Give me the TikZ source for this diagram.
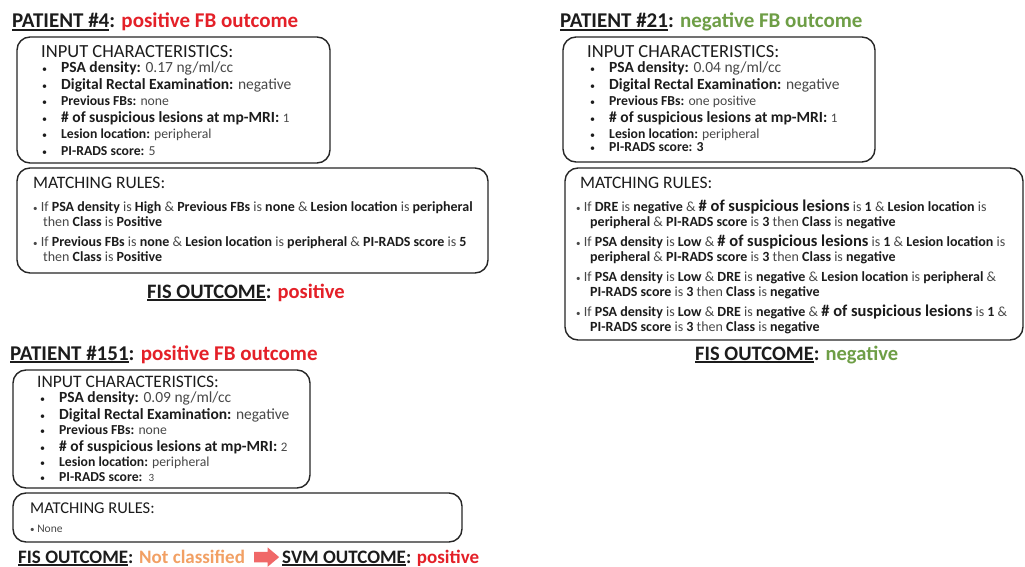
\documentclass[tikz,border=0pt]{standalone}
\usepackage{fontspec}
\setmainfont{Carlito}
\usetikzlibrary{shapes.arrows,calc}
\definecolor{posred}{RGB}{228,32,40}
\definecolor{neggreen}{RGB}{110,158,70}
\definecolor{ncorange}{RGB}{242,160,100}
\definecolor{arrowc}{RGB}{240,104,104}
\definecolor{txt}{RGB}{72,72,72}
\definecolor{lbl}{RGB}{28,28,28}
\newcommand\kb[1]{{\bfseries\color{lbl}#1}}
\newcommand\ulx[1]{\sbox0{#1}\rlap{\rule[-2.6pt]{\wd0}{1.4pt}}\usebox0}
\newcommand\bigh[1]{{\fontsize{16.5}{18}\selectfont #1}}
\newcommand\sbul{{\fontsize{9}{10}\selectfont\textbullet}}
\tikzset{
  box/.style={draw=black!85, line width=1.4pt, rounded corners=13pt},
  ttl/.style={anchor=base west, inner sep=0pt, text=lbl, font=\fontsize{21}{25}\selectfont\bfseries},
  hd/.style={anchor=base west, inner sep=0pt, text=lbl, font=\fontsize{18.5}{22}\selectfont},
  itL/.style={anchor=base west, inner sep=0pt, text=txt, font=\fontsize{15.5}{18}\selectfont},
  itS/.style={anchor=base west, inner sep=0pt, text=txt, font=\fontsize{13.7}{16}\selectfont},
  bul/.style={anchor=base west, inner sep=0pt, text=lbl, font=\fontsize{10}{12}\selectfont},
  rl/.style={anchor=base west, inner sep=0pt, text=txt, font=\fontsize{14}{16}\selectfont},
  res/.style={anchor=base west, inner sep=0pt, text=lbl, font=\fontsize{20.5}{24}\selectfont\bfseries},
  res2/.style={anchor=base west, inner sep=0pt, text=lbl, font=\fontsize{19}{23}\selectfont\bfseries},
}
\newcommand\itm[5]{%
  \node[bul] (#1b) at (#2,#3) {\textbullet};
  \node[#4] (#1) at ($(#2,#3)+(19,0)$) {#5};}
\begin{document}
\begin{tikzpicture}[x=1pt,y=-1pt]
\useasboundingbox[fill=white] (0,0) rectangle (1025,567);

% ---------- Patient 4 ----------
\node[ttl] (t1) at (12,28) {\ulx{PATIENT \#4}: \textcolor{posred}{positive FB outcome}};
\draw[box] (17,37) rectangle (330,163);
\node[hd] (h1) at (41,58) {INPUT CHARACTERISTICS:};
\itm{a1}{42}{73}{itL}{\kb{PSA density:} 0.17 ng/ml/cc}
\itm{a2}{42}{90}{itL}{\kb{Digital Rectal Examination:} negative}
\itm{a3}{42}{106}{itS}{\kb{Previous FBs:} none}
\itm{a4}{42}{123}{itL}{\kb{\# of suspicious lesions at mp-MRI:} {\fontsize{13}{15}\selectfont 1}}
\itm{a5}{42}{139}{itS}{\kb{Lesion location:} peripheral}
\itm{a6}{42}{156}{itS}{\kb{PI-RADS score:} 5}

\draw[box] (17,168) rectangle (488,273);
\node[hd, font=\fontsize{17.5}{21}\selectfont] (m1) at (33,188) {MATCHING RULES:};
\node[rl] (r11) at (33,211) {\sbul\ If \kb{PSA density} is \kb{High} \& \kb{Previous FBs} is \kb{none} \& \kb{Lesion location} is \kb{peripheral}};
\node[rl] (r12) at (43,226) {then \kb{Class} is \kb{Positive}};
\node[rl] (r21) at (33,246) {\sbul\ If \kb{Previous FBs} is \kb{none} \& \kb{Lesion location} is \kb{peripheral} \& \kb{PI-RADS score} is \kb{5}};
\node[rl] (r22) at (43,261) {then \kb{Class} is \kb{Positive}};

\node[res] (f1) at (147,298) {\ulx{FIS OUTCOME}: \textcolor{posred}{positive}};

% ---------- Patient 21 ----------
\node[ttl] (t2) at (560,28) {\ulx{PATIENT \#21}: \textcolor{neggreen}{negative FB outcome}};
\draw[box] (563,37) rectangle (875,162);
\node[hd] (h2) at (587,58) {INPUT CHARACTERISTICS:};
\itm{c1}{590}{73}{itL}{\kb{PSA density:} 0.04 ng/ml/cc}
\itm{c2}{590}{90}{itL}{\kb{Digital Rectal Examination:} negative}
\itm{c3}{590}{106}{itS}{\kb{Previous FBs:} one positive}
\itm{c4}{590}{123}{itL}{\kb{\# of suspicious lesions at mp-MRI:} {\fontsize{13}{15}\selectfont 1}}
\itm{c5}{590}{139}{itS}{\kb{Lesion location:} peripheral}
\itm{c6}{590}{152}{itS}{\kb{PI-RADS score: 3}}

\draw[box] (565,168) rectangle (1023,340);
\node[hd, font=\fontsize{17.5}{21}\selectfont] (m2) at (580,188) {MATCHING RULES:};
\node[rl] (s11) at (576,211) {\sbul\ If \kb{DRE} is \kb{negative} \& \kb{\bigh{\# of suspicious lesions}} is \kb{1} \& \kb{Lesion location} is};
\node[rl] (s12) at (590,226) {\kb{peripheral} \& \kb{PI-RADS score} is \kb{3} then \kb{Class} is \kb{negative}};
\node[rl] (s21) at (576,246) {\sbul\ If \kb{PSA density} is \kb{Low} \& \kb{\bigh{\# of suspicious lesions}} is \kb{1} \& \kb{Lesion location} is};
\node[rl] (s22) at (590,261) {\kb{peripheral} \& \kb{PI-RADS score} is \kb{3} then \kb{Class} is \kb{negative}};
\node[rl] (s31) at (576,281) {\sbul\ If \kb{PSA density} is \kb{Low} \& \kb{DRE} is \kb{negative} \& \kb{Lesion location} is \kb{peripheral} \&};
\node[rl] (s32) at (590,296) {\kb{PI-RADS score} is \kb{3} then \kb{Class} is \kb{negative}};
\node[rl] (s41) at (576,316) {\sbul\ If \kb{PSA density} is \kb{Low} \& \kb{DRE} is \kb{negative} \& \kb{\bigh{\# of suspicious lesions}} is \kb{1} \&};
\node[rl] (s42) at (590,331) {\kb{PI-RADS score} is \kb{3} then \kb{Class} is \kb{negative}};

\node[res] (f2) at (695,360) {\ulx{FIS OUTCOME}: \textcolor{neggreen}{negative}};

% ---------- Patient 151 ----------
\node[ttl] (t3) at (10,360) {\ulx{PATIENT \#151}: \textcolor{posred}{positive FB outcome}};
\draw[box] (13,370) rectangle (310,488);
\node[hd, font=\fontsize{17.5}{21}\selectfont] (h3) at (37,387) {INPUT CHARACTERISTICS:};
\itm{e1}{40}{402}{itL}{\kb{PSA density:} 0.09 ng/ml/cc}
\itm{e2}{40}{419}{itL}{\kb{Digital Rectal Examination:} negative}
\itm{e3}{40}{434}{itS}{\kb{Previous FBs:} none}
\itm{e4}{40}{451}{itL}{\kb{\# of suspicious lesions at mp-MRI:} {\fontsize{13}{15}\selectfont 2}}
\itm{e5}{40}{466}{itS}{\kb{Lesion location:} peripheral}
\itm{e6}{40}{481}{itS}{\kb{PI-RADS score:}\ \ {\fontsize{11}{13}\selectfont 3}}

\draw[box] (13,493) rectangle (462,542);
\node[hd, font=\fontsize{16.5}{20}\selectfont] (m3) at (30,513) {MATCHING RULES:};
\node[rl, font=\fontsize{11.5}{14}\selectfont] (n3) at (30,532) {\sbul\ None};

\node[res2] (f3) at (18,563) {\ulx{FIS OUTCOME}:};
\node[res2, text=ncorange] (nc) at (139,563) {Not classified};
\node[res2] (svm) at (282,563) {\ulx{SVM OUTCOME}: \textcolor{posred}{positive}};
\node[single arrow, fill=arrowc, inner sep=0pt, text height=0pt, text depth=0pt,
      inner ysep=5pt, minimum height=25pt, single arrow head extend=4.5pt,
      single arrow tip angle=80] (arr) at ($(nc.east)!0.5!(svm.west)$) {};
\end{tikzpicture}
\end{document}
